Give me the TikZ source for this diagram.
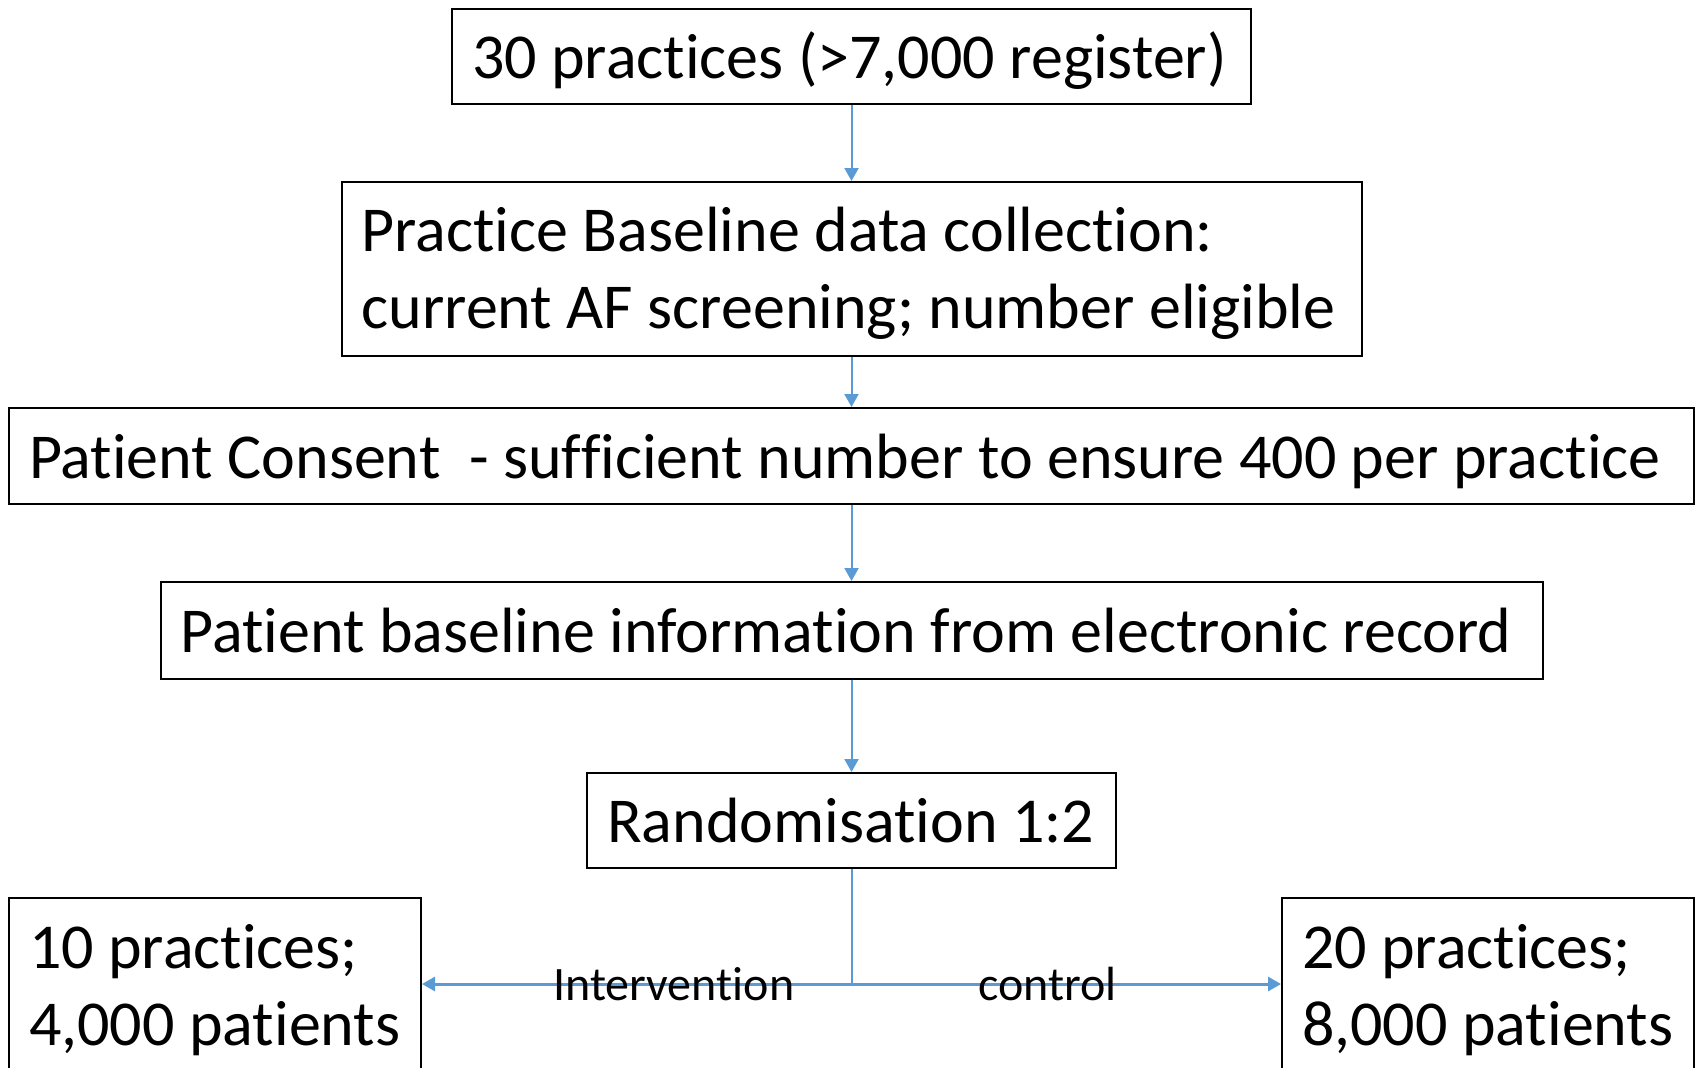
\documentclass[tikz,border=0pt]{standalone}
\usepackage{fontspec}
\setmainfont{Carlito}[Ligatures=NoCommon]
\usetikzlibrary{arrows.meta}
\definecolor{arrowblue}{RGB}{91,155,213}

\begin{document}
\begin{tikzpicture}[x=1pt,y=1pt,
        box/.style={draw=black,line width=1pt,inner xsep=10pt,inner ysep=0pt,
          align=flush left,font=\fontsize{32}{38.6}\selectfont,
          text height=23pt,text depth=0.6pt},
        flow/.style={draw=arrowblue,line width=1pt,
          -{Triangle[width=7pt,length=6.5pt]}},
        armlabel/.style={font=\fontsize{24}{29}\selectfont,inner sep=0pt}]
        %\draw[very thin,gray,step=50] (0,-533.5) grid (850,0) ;
        \useasboundingbox (0,0) rectangle (850,-533.5) ;
        \node[box,text width=379.5pt,minimum height=47.5pt] (practices)
        at (425.75,-28.25) {30 practices (>7,000 register)} ;
        \node[box,text width=490pt,minimum height=87pt,text depth=40.6pt] (pracbase)
        at (425.75,-134.5) {Practice Baseline data collection:\\current AF screening; number eligible} ;
        \node[box,text width=822.5pt,minimum height=48pt] (consent)
        at (425.75,-228) {Patient Consent\ \ - sufficient number to ensure 400 per practice} ;
        \node[box,text width=671pt,minimum height=48.5pt] (patbase)
        at (425.75,-315.25) {Patient baseline information from electronic record} ;
        \node[box,text width=244.5pt,minimum height=47.5pt] (random)
        at (425.75,-410.25) {Randomisation 1:2} ;
        % the two arms run off the bottom edge
        \node[box,text width=186pt,minimum height=92pt,text depth=45pt] (interv)
        at (107.5,-495) {10 practices;\\4,000 patients} ;
        \node[box,text width=186pt,minimum height=92pt,text depth=45pt] (control)
        at (744,-495) {20 practices;\\8,000 patients} ;
        \draw[flow] (practices) -- (pracbase) ;
        \draw[flow] (pracbase) -- (consent) ;
        \draw[flow] (consent) -- (patbase) ;
        \draw[flow] (patbase) -- (random) ;
        \coordinate (split) at (425.75,-492) ;
        \draw[draw=arrowblue,line width=1pt] (random) -- (split) ;
        \draw[flow,line width=1.5pt] (split) -- node[armlabel,pos=0.414] {Intervention} (split -| interv.east) ;
        \draw[flow,line width=1.5pt] (split) -- node[armlabel,pos=0.456] {control} (split -| control.west) ;
      \end{tikzpicture}
\end{document}
